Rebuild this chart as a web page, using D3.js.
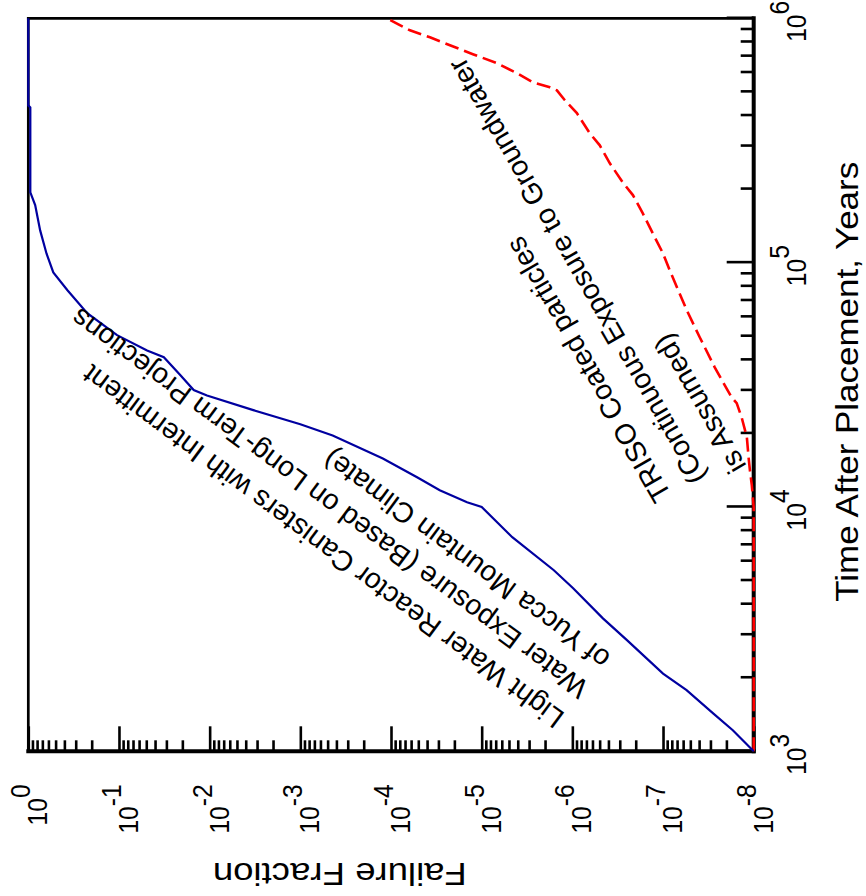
<!DOCTYPE html>
<html><head><meta charset="utf-8">
<script src="https://cdn.jsdelivr.net/npm/d3@7"></script>
<style>body{margin:0;background:#fff}svg{display:block}</style>
</head><body>
<svg id="c" width="866" height="896"></svg>
<script>
// ---- data ----
const timeMajor = [1e3, 1e4, 1e5, 1e6];
const timeLabelExp = ["3", "4", "5", "6"];
const failMajor = [1, 1e-1, 1e-2, 1e-3, 1e-4, 1e-5, 1e-6, 1e-7, 1e-8];
const failLabelExp = ["0", "-1", "-2", "-3", "-4", "-5", "-6", "-7", "-8"];

const lwrTime = [1000, 1220, 1430, 1780, 2080, 2850, 3500, 4650, 5510, 7520,
  10000, 10450, 11700, 13200, 15800, 19600, 21800, 24900, 28600, 30100,
  34600, 41000, 43700, 50500, 62100, 77100, 91200, 109000, 135500, 172000,
  194000, 432000, 440000, 1000000];
const lwrFail = [1.0e-8, 1.7e-8, 2.8e-8, 5.5e-8, 1.0e-7, 2.5e-7, 4.6e-7, 9.8e-7, 1.6e-6, 4.6e-6,
  1.0e-5, 1.45e-5, 2.9e-5, 5.1e-5, 1.23e-4, 4.4e-4, 1.0e-3, 3.3e-3, 1.07e-2, 1.5e-2,
  2.1e-2, 3.2e-2, 4.9e-2, 0.105, 0.224, 0.37, 0.53, 0.63, 0.74, 0.84,
  0.95, 0.95, 1, 1];

const trisoTime = [1000, 10000, 12300, 14100, 16000, 19300, 23300, 26600, 28100, 31500,
  37300, 49500, 63800, 93000, 109000, 132000, 159000, 189000, 213000, 255000,
  302000, 338000, 409000, 462000, 507000, 522000, 547000, 596000, 655000, 713000,
  776000, 836000, 893000, 1000000];
const trisoFail = [1e-8, 1e-8, 1.05e-8, 1.1e-8, 1.14e-8, 1.19e-8, 1.36e-8, 1.54e-8, 1.75e-8, 2.09e-8,
  2.69e-8, 3.94e-8, 5.47e-8, 8.43e-8, 1.0e-7, 1.3e-7, 1.67e-7, 2.15e-7, 2.78e-7, 3.86e-7,
  4.98e-7, 6.41e-7, 8.91e-7, 1.21e-6, 1.48e-6, 1.77e-6, 2.72e-6, 4.09e-6, 6.79e-6, 1.25e-5,
  2.24e-5, 3.72e-5, 6.18e-5, 1.11e-4];

const xTitle = "Time After Placement, Years";
const yTitle = "Failure Fraction";
const lwrNote = ["Light Water Reactor Canisters with Intermittent",
  "Water Exposure (Based on Long-Term Projections",
  "of Yucca Mountain Climate)"];
const trisoNote = ["TRISO Coated particles",
  "(Continuous Exposure to Groundwater",
  "is Assumed)"];

// ---- chart ----
const FONT = "'Liberation Sans', Arial, Helvetica, sans-serif";
const svg = d3.select("#c");
const W = 733, H = 725.4;
// chart is drawn in normal orientation and turned a quarter turn counter-clockwise
const g = svg.append("g").attr("transform", "translate(28.3,751.3) rotate(-90)");

const x = d3.scaleLog().domain([1e3, 1e6]).range([0, W]);
const y = d3.scaleLog().domain([1e-8, 1]).range([H, 0]);

const timeMinor = [];
for (let e = 3; e < 6; e++) for (let m = 2; m < 10; m++) timeMinor.push(m * Math.pow(10, e));
const failMinor = [];
for (let e = -8; e < 0; e++) for (let m = 2; m < 10; m++) failMinor.push(m * Math.pow(10, e));

function styleAxis(a) {
  a.select(".domain").remove();
  a.selectAll("line").attr("stroke", "#000").attr("stroke-width", 2.6);
}
g.append("g").attr("transform", `translate(0,${H})`)
  .call(d3.axisBottom(x).tickValues(timeMajor).tickSize(-27).tickFormat("")).call(styleAxis);
g.append("g").attr("transform", `translate(0,${H})`)
  .call(d3.axisBottom(x).tickValues(timeMinor).tickSize(-13).tickFormat("")).call(styleAxis);
g.append("g")
  .call(d3.axisLeft(y).tickValues(failMajor).tickSize(-25).tickFormat("")).call(styleAxis);
g.append("g")
  .call(d3.axisLeft(y).tickValues(failMinor).tickSize(-11).tickFormat("")).call(styleAxis);

// frame
const frame = [
  [0, 0, W, 0, 2.7], [W, 0, W, H, 2.7],
  [0, H, W, H, 4], [0, 0, 0, H, 4]
];
g.selectAll("line.frame").data(frame).join("line").attr("class", "frame")
  .attr("x1", d => d[0]).attr("y1", d => d[1]).attr("x2", d => d[2]).attr("y2", d => d[3])
  .attr("stroke", "#000").attr("stroke-width", d => d[4]).attr("stroke-linecap", "square");

// tick labels
timeMajor.forEach((t, i) => {
  const tx = g.append("text")
    .attr("transform", `translate(${x(t) - 3},${H + 52}) scale(0.88,1)`)
    .attr("text-anchor", "middle").attr("font-family", FONT).attr("font-size", 28).attr("fill", "#000");
  tx.append("tspan").text("10");
  tx.append("tspan").attr("dy", -17).text(timeLabelExp[i]);
});
failMajor.forEach((f, i) => {
  const tx = g.append("text")
    .attr("transform", `translate(-33,${y(f) + 19}) scale(0.88,1)`)
    .attr("text-anchor", "end").attr("font-family", FONT).attr("font-size", 28).attr("fill", "#000");
  tx.append("tspan").text("10");
  tx.append("tspan").attr("dy", -17).text(failLabelExp[i]);
});

// axis titles
g.append("text").attr("x", 369.5).attr("y", 829.7).attr("text-anchor", "middle")
  .attr("font-family", FONT).attr("font-size", 32).attr("textLength", 440)
  .attr("lengthAdjust", "spacingAndGlyphs").text(xTitle);
g.append("text").attr("transform", "translate(-111.4,311.5) rotate(-90)").attr("text-anchor", "middle")
  .attr("font-family", FONT).attr("font-size", 31).attr("textLength", 254)
  .attr("lengthAdjust", "spacingAndGlyphs").text(yTitle);

// curves
const line = d3.line().x(d => x(d[0])).y(d => y(d[1]));
g.append("path").datum(trisoTime.map((t, i) => [t, trisoFail[i]]))
  .attr("d", line).attr("fill", "none").attr("stroke", "#ff0000")
  .attr("stroke-width", 2.6).attr("stroke-dasharray", "14,6");
g.append("path").datum(lwrTime.map((t, i) => [t, lwrFail[i]]))
  .attr("d", line).attr("fill", "none").attr("stroke", "#0000a0")
  .attr("stroke-width", 2.2);

// annotations (in page orientation)
const lwrPos = [[566, 714], [590, 684], [612, 655]];
lwrNote.forEach((s, i) => {
  svg.append("text").attr("transform", `translate(${lwrPos[i][0]},${lwrPos[i][1]}) rotate(-143.5)`)
    .attr("font-family", FONT).attr("font-size", 28.5).attr("fill", "#000").text(s);
});
const trisoPos = [[672, 495], [707, 477], [747, 466]];
trisoNote.forEach((s, i) => {
  svg.append("text").attr("transform", `translate(${trisoPos[i][0]},${trisoPos[i][1]}) rotate(-120)`)
    .attr("font-family", FONT).attr("font-size", 28.5).attr("fill", "#000").text(s);
});
</script>
</body></html>
